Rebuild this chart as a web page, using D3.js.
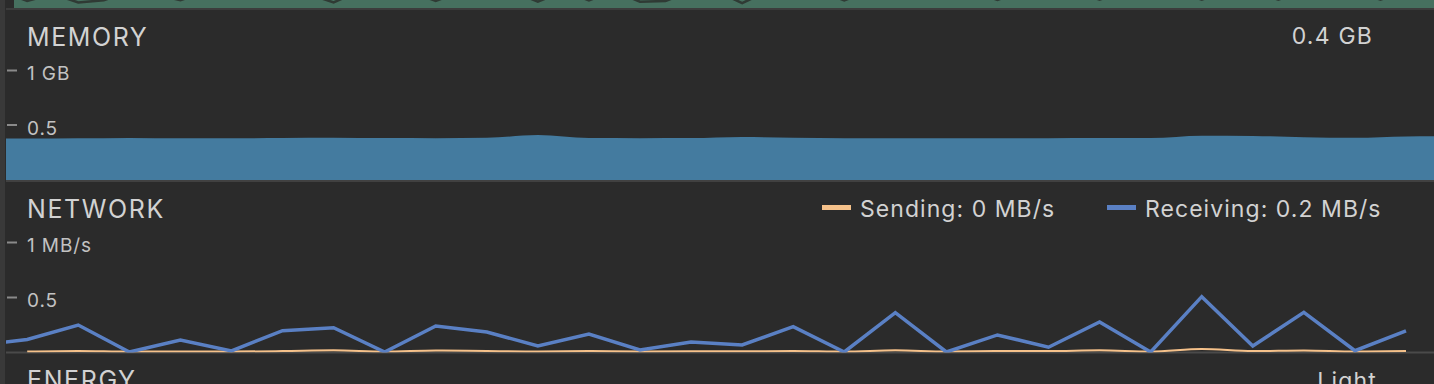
<!DOCTYPE html>
<html>
<head>
<meta charset="utf-8">
<script src="https://cdn.jsdelivr.net/npm/d3@7"></script>
<style>
  html, body { margin: 0; padding: 0; background: #2b2b2b; }
  svg { display: block; }
  text { font-family: Inter, "Open Sans", sans-serif; }
</style>
</head>
<body>
<div id="chart"></div>
<script>
"use strict";

// sample index (one per ~second) shared by the network series
var netTimes    = d3.range(0, 28);
var receiving   = [0.114, 0.245, 0.0, 0.109, 0.010, 0.194, 0.221, 0.0, 0.236, 0.182,
                   0.055, 0.164, 0.018, 0.091, 0.064, 0.230, 0.0, 0.357, 0.0, 0.155,
                   0.043, 0.273, 0.0, 0.503, 0.055, 0.361, 0.012, 0.191];
var sending     = [0.005, 0.010, 0.004, 0.005, 0.004, 0.008, 0.015, 0.004, 0.014, 0.010,
                   0.005, 0.008, 0.004, 0.006, 0.006, 0.010, 0.004, 0.015, 0.004, 0.008,
                   0.008, 0.015, 0.004, 0.028, 0.008, 0.014, 0.004, 0.008];

var memTimes    = d3.range(-1, 29);
var memory      = [0.372, 0.372, 0.374, 0.377, 0.373, 0.373, 0.376, 0.379, 0.376, 0.375,
                   0.378, 0.404, 0.376, 0.375, 0.376, 0.386, 0.378, 0.374, 0.374, 0.374,
                   0.374, 0.375, 0.376, 0.376, 0.397, 0.395, 0.384, 0.378, 0.390, 0.394];

// tail of the cpu chart above (other processes line), half-second samples
var cpuTimes    = d3.range(-1, 28.6, 0.5);
var cpuOthers   = [12, 12, 5, 10, 4, 5.5, 12, 10, 5.5, 12, 12, 12, 12, 10, 4, 12,
                   12, 12, 5, 12, 12, 12, 4.5, 12, 5.5, 12, 4.5, 5, 12, 12, 3.5, 12,
                   12, 12, 5.5, 12, 12, 12, 12, 12, 5.8, 12, 12, 12, 6, 12, 12, 12,
                   6, 12, 12, 6, 12, 12, 12, 6, 12, 12, 12];

var memTicks    = [0.5, 1];
var netTicks    = [0.5, 1];
var memLabels   = { 0.5: "0.5", 1: "1 GB" };
var netLabels   = { 0.5: "0.5", 1: "1 MB/s" };
var legendItems = [
  { name: "Sending: 0 MB/s",     color: "#f5c18a" },
  { name: "Receiving: 0.2 MB/s", color: "#5a80c4" }
];

var W = 1434, H = 384;
var left = 6;

var svg = d3.select("#chart").append("svg")
  .attr("width", W)
  .attr("height", H);

svg.append("rect").attr("width", W).attr("height", H).attr("fill", "#2b2b2b");

var x = d3.scaleLinear().domain([0, 27]).range([27.2, 1406]);

var defs = svg.append("defs");
var clip = function(id, x0, y0, x1, y1) {
  defs.append("clipPath").attr("id", id)
    .append("rect").attr("x", x0).attr("y", y0)
    .attr("width", x1 - x0).attr("height", y1 - y0);
  return "url(#" + id + ")";
};

// ---- CPU strip (only its bottom edge is visible) ----
var yCpu = d3.scaleLinear().domain([0, 100]).range([8, -132]);
var cpuG = svg.append("g").attr("clip-path", clip("cpuClip", 14, 0, W, 8));
cpuG.append("rect").attr("x", 14).attr("y", 0).attr("width", W - 14).attr("height", 8)
  .attr("fill", "#46705f");
cpuG.append("path")
  .datum(cpuTimes.map(function(t, i) { return [t, cpuOthers[i]]; }))
  .attr("fill", "none")
  .attr("stroke", "#2f3a34")
  .attr("stroke-width", 2.5)
  .attr("d", d3.line()
    .x(function(d) { return x(d[0]); })
    .y(function(d) { return yCpu(d[1]); }));
svg.append("rect").attr("x", left).attr("y", 8).attr("width", W - left).attr("height", 2)
  .attr("fill", "#3c3c3c");

// ---- MEMORY ----
var yMem = d3.scaleLinear().domain([0, 1]).range([179, 70]);

svg.append("g")
  .attr("clip-path", clip("memClip", left, 60, W, 180))
  .append("path")
  .datum(memTimes.map(function(t, i) { return [t, memory[i]]; }))
  .attr("fill", "#447b9f")
  .attr("d", d3.area()
    .curve(d3.curveMonotoneX)
    .x(function(d) { return x(d[0]); })
    .y0(180)
    .y1(function(d) { return yMem(d[1]); }));

svg.append("rect").attr("x", left).attr("y", 180).attr("width", W - left).attr("height", 2)
  .attr("fill", "#414141");

var styleAxis = function(g) {
  g.select(".domain").remove();
  g.selectAll(".tick line").attr("stroke", "#8a8a8a").attr("stroke-width", 2);
  g.selectAll(".tick text")
    .attr("fill", "#c2c2c2")
    .attr("font-size", 19)
    .attr("font-family", "Inter, sans-serif")
    .attr("letter-spacing", 0.9)
    .attr("dy", "0.5em");
};

svg.append("g")
  .attr("transform", "translate(7,0)")
  .call(d3.axisRight(yMem).tickValues(memTicks).tickSize(10).tickPadding(10)
    .tickFormat(function(d) { return memLabels[d]; }))
  .call(styleAxis);

svg.append("text").attr("x", 27).attr("y", 46)
  .attr("fill", "#d2d2d2").attr("font-size", 25).attr("letter-spacing", 1.6)
  .text("MEMORY");
svg.append("text").attr("x", 1373).attr("y", 44).attr("text-anchor", "end")
  .attr("fill", "#d2d2d2").attr("font-size", 23).attr("letter-spacing", 1.2)
  .text("0.4 GB");

// ---- NETWORK ----
var yNet = d3.scaleLinear().domain([0, 1]).range([352, 242]);

svg.append("text").attr("x", 27).attr("y", 218)
  .attr("fill", "#d2d2d2").attr("font-size", 25).attr("letter-spacing", 1.6)
  .text("NETWORK");

svg.append("g")
  .attr("transform", "translate(7,0)")
  .call(d3.axisRight(yNet).tickValues(netTicks).tickSize(10).tickPadding(10)
    .tickFormat(function(d) { return netLabels[d]; }))
  .call(styleAxis);

var legendX = [822, 1107];
var legend = svg.selectAll(".legend")
  .data(legendItems)
  .enter().append("g")
  .attr("class", "legend")
  .attr("transform", function(d, i) { return "translate(" + legendX[i] + ",0)"; });
legend.append("rect")
  .attr("x", 0).attr("y", 205).attr("width", 29).attr("height", 5)
  .attr("fill", function(d) { return d.color; });
legend.append("text")
  .attr("x", 38).attr("y", 217)
  .attr("fill", "#d2d2d2").attr("font-size", 23).attr("letter-spacing", 1.05)
  .text(function(d) { return d.name; });

svg.append("rect").attr("x", left).attr("y", 351.5).attr("width", W - left).attr("height", 2)
  .attr("fill", "#4a4a4a");

var netG = svg.append("g").attr("clip-path", clip("netClip", left, 230, W, 352.5));
var netLine = d3.line()
  .x(function(d) { return x(d[0]); })
  .y(function(d) { return yNet(d[1]); });

netG.append("path")
  .datum(netTimes.map(function(t, i) { return [t, sending[i]]; }))
  .attr("fill", "none")
  .attr("stroke", legendItems[0].color)
  .attr("stroke-width", 2)
  .attr("d", netLine.curve(d3.curveMonotoneX));

netG.append("path")
  .datum([[-1, 0.06]].concat(netTimes.map(function(t, i) { return [t, receiving[i]]; })))
  .attr("fill", "none")
  .attr("stroke", legendItems[1].color)
  .attr("stroke-width", 3.5)
  .attr("stroke-linejoin", "miter")
  .attr("d", d3.line()
    .x(function(d) { return x(d[0]); })
    .y(function(d) { return yNet(d[1]); }));

// ---- ENERGY (cut off at the bottom, as in the profiler view) ----
svg.append("text").attr("x", 27).attr("y", 389)
  .attr("fill", "#d2d2d2").attr("font-size", 25).attr("letter-spacing", 1.6)
  .text("ENERGY");
svg.append("text").attr("x", 1377).attr("y", 389).attr("text-anchor", "end")
  .attr("fill", "#d2d2d2").attr("font-size", 23).attr("letter-spacing", 1.2)
  .text("Light");

// left gutter
svg.append("rect").attr("x", 0).attr("y", 0).attr("width", 5).attr("height", H)
  .attr("fill", "#393939");
</script>
</body>
</html>
